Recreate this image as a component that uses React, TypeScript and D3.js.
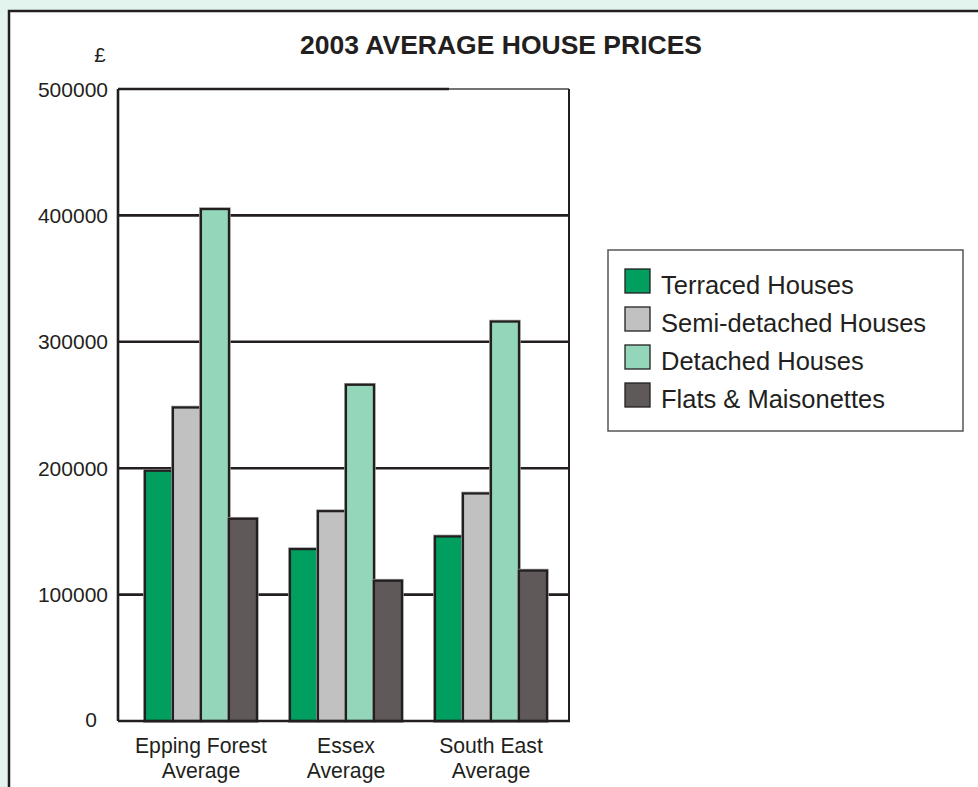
import React from "react";
import * as d3 from "d3";

const categories = [["Epping Forest", "Average"], ["Essex", "Average"], ["South East", "Average"]];
const seriesNames = ["Terraced Houses", "Semi-detached Houses", "Detached Houses", "Flats & Maisonettes"];
const terraced = [198000, 136000, 146000];
const semiDetached = [248000, 166000, 180000];
const detached = [405000, 266000, 316000];
const flats = [160000, 111000, 119000];
const yTicks = [0, 100000, 200000, 300000, 400000, 500000];
const colors = ["#009e5f", "#c1c1c1", "#93d6b9", "#5f5a59"];

const seriesValues = [terraced, semiDetached, detached, flats];

export default function App() {
  const W = 978, H = 787;
  const left = 118, right = 569, top = 89, bottom = 721;
  const font = "'Liberation Sans', Arial, Helvetica, sans-serif";
  const ink = "#231f20";

  const catKeys = categories.map((c) => c.join(" "));
  const x0 = d3.scaleBand<string>().domain(catKeys).range([left, right])
    .paddingInner(0.228).paddingOuter(0.169).align(0.55);
  const x1 = d3.scaleBand<string>().domain(seriesNames).range([0, x0.bandwidth()]).padding(0);
  const y = d3.scaleLinear().domain([0, 500000]).range([bottom, top]);

  return (
    <svg width={W} height={H} style={{ position: "absolute", left: 0, top: 0, fontFamily: font }}>
      <rect x={0} y={0} width={W} height={H} fill="#e3f4ee" />
      <rect x={9} y={11} width={1100} height={1100} fill="#ffffff" stroke={ink} strokeWidth={2.5} />

      <text x={501} y={54} textAnchor="middle" fontSize={26.5} fontWeight="bold" fill={ink}>
        2003 AVERAGE HOUSE PRICES
      </text>
      <text x={100} y={62} textAnchor="middle" fontSize={20.5} fill={ink}>£</text>

      {/* gridlines */}
      {yTicks.filter((t) => t > 0 && t < 500000).map((t) => (
        <line key={t} x1={left} x2={right} y1={y(t)} y2={y(t)} stroke={ink} strokeWidth={2.6} />
      ))}
      {/* frame */}
      <line x1={left} x2={right} y1={y(500000)} y2={y(500000)} stroke="#444" strokeWidth={1.6} />
      <line x1={left} x2={449} y1={y(500000)} y2={y(500000)} stroke={ink} strokeWidth={2.6} />
      <line x1={right} x2={right} y1={y(500000)} y2={bottom} stroke={ink} strokeWidth={2} />

      {/* bars */}
      {catKeys.map((c, ci) => (
        <g key={c} transform={`translate(${x0(c)},0)`}>
          {seriesNames.map((s, si) => {
            const v = seriesValues[si][ci];
            return (
              <g key={s}>
                <rect x={x1(s)!} y={y(v)} width={x1.bandwidth()} height={bottom - y(v)}
                  fill="none" stroke="#9a9a9a" strokeWidth={3.6} />
                <rect x={x1(s)!} y={y(v)} width={x1.bandwidth()} height={bottom - y(v)}
                  fill={colors[si]} stroke={ink} strokeWidth={2.2} />
              </g>
            );
          })}
        </g>
      ))}

      <line x1={left} x2={left} y1={top} y2={bottom} stroke={ink} strokeWidth={2.6} />
      <line x1={left} x2={right + 1} y1={bottom} y2={bottom} stroke={ink} strokeWidth={2.6} />

      {/* y tick labels */}
      {yTicks.map((t) => (
        <text key={t} x={t === 0 ? 97 : 108} y={y(t) + (t === 0 ? 6 : 7.5)} textAnchor="end" fontSize={21} fill={ink}>{t}</text>
      ))}

      {/* x labels */}
      {categories.map((c, ci) => {
        const cx = x0(catKeys[ci])! + x0.bandwidth() / 2;
        return (
          <text key={ci} textAnchor="middle" fontSize={21.2} fill={ink}>
            {c.map((line, li) => (
              <tspan key={li} x={cx} y={753 + li * 25}>{line}</tspan>
            ))}
          </text>
        );
      })}

      {/* legend */}
      <rect x={608} y={250} width={355} height={181} fill="#ffffff" stroke="#555" strokeWidth={1.5} />
      {seriesNames.map((s, i) => (
        <g key={s} transform={`translate(625,${269 + i * 38})`}>
          <rect x={0} y={0} width={25} height={24} fill={colors[i]} stroke={ink} strokeWidth={1.3} />
          <text x={36} y={24.5} fontSize={25.5} fill={ink}>{s}</text>
        </g>
      ))}
    </svg>
  );
}
